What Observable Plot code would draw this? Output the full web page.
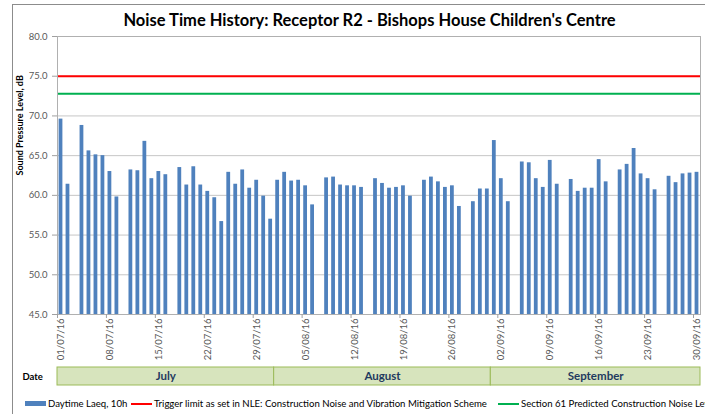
<!DOCTYPE html>
<html><head><meta charset="utf-8">
<script src="https://cdn.jsdelivr.net/npm/d3@7"></script>
<script src="https://cdn.jsdelivr.net/npm/@observablehq/plot@0.6"></script>
<style>
body{margin:0;background:#fff;font-family:Lato,"Open Sans",sans-serif;}
#wrap{position:relative;width:705px;height:414px;overflow:hidden;background:#fff}
#border{position:absolute;left:12px;top:4px;width:720px;height:440px;border:1px solid #8c8c8c;}
#title{position:absolute;left:0;top:10px;width:739px;text-align:center;font-weight:bold;font-size:16.5px;color:#000;}
#main{position:absolute;left:0;top:0;}
#months{position:absolute;left:0;top:366px;}
.lg{position:absolute;top:398px;font-size:9.6px;color:#000;white-space:nowrap;display:flex;align-items:center;}
.sw{display:inline-block;width:21px;margin-right:2px;}
</style></head><body>
<div id="wrap">
 <div id="border"></div>
 <div id="title">Noise Time History: Receptor R2 - Bishops House Children's Centre</div>
 <div id="main"></div>
 <div id="months"></div>
 <div class="lg" style="left:25px"><span class="sw" style="height:5px;background:#4f81bd"></span>Daytime Laeq, 10h</div>
 <div class="lg" style="left:131px"><span class="sw" style="height:2px;background:#ff0000"></span>Trigger limit as set in NLE: Construction Noise and Vibration Mitigation Scheme</div>
 <div class="lg" style="left:498px"><span class="sw" style="height:2px;background:#00b050"></span>Section 61 Predicted Construction Noise Level</div>
</div>
<script>
// ---- data ----
const dates = [
 "2016-07-01","2016-07-02","2016-07-04","2016-07-05","2016-07-06","2016-07-07","2016-07-08","2016-07-09",
 "2016-07-11","2016-07-12","2016-07-13","2016-07-14","2016-07-15","2016-07-16",
 "2016-07-18","2016-07-19","2016-07-20","2016-07-21","2016-07-22","2016-07-23","2016-07-24",
 "2016-07-25","2016-07-26","2016-07-27","2016-07-28","2016-07-29","2016-07-30","2016-07-31",
 "2016-08-01","2016-08-02","2016-08-03","2016-08-04","2016-08-05","2016-08-06",
 "2016-08-08","2016-08-09","2016-08-10","2016-08-11","2016-08-12","2016-08-13",
 "2016-08-15","2016-08-16","2016-08-17","2016-08-18","2016-08-19","2016-08-20",
 "2016-08-22","2016-08-23","2016-08-24","2016-08-25","2016-08-26","2016-08-27",
 "2016-08-29","2016-08-30","2016-08-31","2016-09-01","2016-09-02","2016-09-03",
 "2016-09-05","2016-09-06","2016-09-07","2016-09-08","2016-09-09","2016-09-10",
 "2016-09-12","2016-09-13","2016-09-14","2016-09-15","2016-09-16","2016-09-17",
 "2016-09-19","2016-09-20","2016-09-21","2016-09-22","2016-09-23","2016-09-24",
 "2016-09-26","2016-09-27","2016-09-28","2016-09-29","2016-09-30"
];
const laeq = [
 69.6,61.4,68.8,65.6,65.1,65.0,63.0,59.8,
 63.2,63.1,66.8,62.1,63.0,62.6,
 63.5,61.3,63.6,61.3,60.5,59.7,56.7,
 62.9,61.4,63.2,60.9,61.9,59.9,57.0,
 61.9,62.9,61.8,61.9,61.2,58.8,
 62.2,62.3,61.3,61.2,61.2,61.0,
 62.1,61.5,60.9,61.0,61.2,59.9,
 61.9,62.3,61.7,61.0,61.2,58.6,
 59.2,60.8,60.8,66.9,62.1,59.2,
 64.2,64.1,62.1,61.0,64.4,61.4,
 62.0,60.5,60.9,60.9,64.5,61.7,
 63.2,63.9,65.9,62.7,62.1,60.7,
 62.4,61.6,62.7,62.8,62.9
];
const triggerLimit = 75.0;
const section61Level = 72.8;
const tickLabels = ["01/07/16","08/07/16","15/07/16","22/07/16","29/07/16","05/08/16","12/08/16",
 "19/08/16","26/08/16","02/09/16","09/09/16","16/09/16","23/09/16","30/09/16"];
const yTicks = [45,50,55,60,65,70,75,80];
const months = ["July","August","September"];
const monthStarts = ["2016-07-01","2016-08-01","2016-09-01","2016-10-01"];
const domainStart = "2016-07-01", domainEnd = "2016-10-01";

// ---- build ----
const DAY = 864e5;
const parseISO = d3.utcParse("%Y-%m-%d");
const parseLbl = d3.utcParse("%d/%m/%y");
const fmtLbl = d3.utcFormat("%d/%m/%y");
const rows = dates.map((d,i)=>({date: parseISO(d), value: laeq[i]}));
const xDomain = [parseISO(domainStart), parseISO(domainEnd)];
const labelDates = tickLabels.map(s => new Date(+parseLbl(s) + DAY/2));
const boundaryTicks = tickLabels.map(s => parseLbl(s));
const monthRows = months.map((m,i)=>({name:m, start:parseISO(monthStarts[i]), end:parseISO(monthStarts[i+1])}));

const grey = "#595959";
const main = Plot.plot({
  width: 705, height: 365,
  marginTop: 36, marginBottom: 51, marginLeft: 57, marginRight: 5,
  style: {fontFamily: "Lato, sans-serif", background: "transparent"},
  x: {type: "utc", domain: xDomain, axis: null},
  y: {domain: [45, 80], axis: null},
  marks: [
    Plot.gridY(yTicks, {stroke: "#c6c6c6", strokeOpacity: 1, strokeWidth: 1}),
    Plot.rectY(rows, {x1: "date", x2: d => new Date(+d.date + DAY), y1: 45, y2: "value",
      fill: "#4f81bd", insetLeft: 1.6, insetRight: 1.6}),
    Plot.ruleY([triggerLimit], {stroke: "#ff0000", strokeWidth: 2}),
    Plot.ruleY([section61Level], {stroke: "#00b050", strokeWidth: 2}),
    Plot.frame({stroke: "#b0b0b0"}),
    Plot.axisY(yTicks, {tickSize: 5, tickPadding: 5, tickFormat: d3.format(".1f"), fontSize: 9.5, color: grey, stroke: "#a0a0a0", label: null}),
    Plot.axisX(boundaryTicks, {tickSize: 4, tickFormat: () => "", stroke: "#a0a0a0", label: null}),
    Plot.axisX(labelDates, {tickSize: 0, tickPadding: 4, tickRotate: -90, tickFormat: fmtLbl, fontSize: 9.5, color: grey, label: null}),
    Plot.text(["Sound Pressure Level, dB"], {frameAnchor: "left", dx: -37, rotate: -90, fontWeight: "bold", fontSize: 9, fill: "#000"})
  ]
});
document.getElementById("main").appendChild(main);

const monthsPlot = Plot.plot({
  width: 705, height: 21,
  marginTop: 1, marginBottom: 2, marginLeft: 57, marginRight: 5,
  style: {fontFamily: "Lato, sans-serif", background: "transparent", overflow: "visible"},
  x: {type: "utc", domain: xDomain, axis: null},
  marks: [
    Plot.rect(monthRows, {x1: "start", x2: "end", fill: "#d7e4bd", stroke: "#9bbb59", strokeWidth: 1}),
    Plot.text(monthRows, {x: d => new Date((+d.start + +d.end)/2), text: "name", fontWeight: "bold", fontSize: 11.5, fill: "#1f3a5f"}),
    Plot.text(["Date"], {frameAnchor: "left", dx: -35, textAnchor: "start", fontWeight: "bold", fontSize: 9.5, fill: "#000"})
  ]
});
document.getElementById("months").appendChild(monthsPlot);
</script>
</body></html>
